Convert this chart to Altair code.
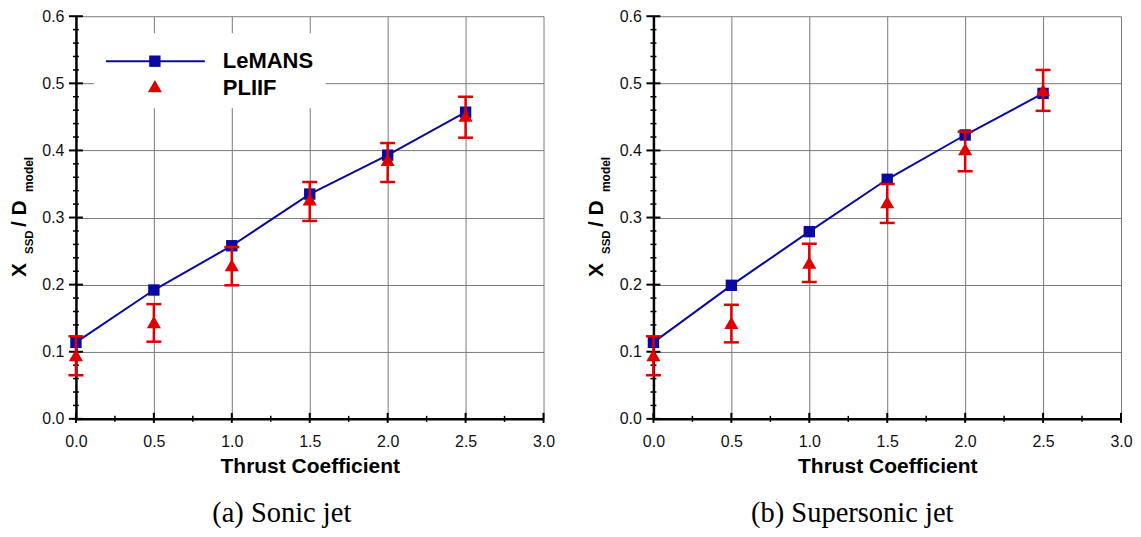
import altair as alt
import pandas as pd

thrust = [0.0, 0.5, 1.0, 1.5, 2.0, 2.5]

sonic_lemans = [0.114, 0.192, 0.258, 0.335, 0.393, 0.457]
sonic_pliif = [0.095, 0.144, 0.229, 0.327, 0.386, 0.452]
sonic_lo = [0.065, 0.115, 0.199, 0.295, 0.353, 0.419]
sonic_hi = [0.123, 0.171, 0.256, 0.353, 0.411, 0.480]

super_lemans = [0.114, 0.199, 0.279, 0.357, 0.423, 0.485]
super_pliif = [0.095, 0.143, 0.233, 0.323, 0.402, 0.490]
super_lo = [0.065, 0.114, 0.204, 0.292, 0.369, 0.459]
super_hi = [0.123, 0.170, 0.261, 0.350, 0.428, 0.520]

x_ticks = [0.0, 0.5, 1.0, 1.5, 2.0, 2.5, 3.0]
y_ticks = [0.0, 0.1, 0.2, 0.3, 0.4, 0.5, 0.6]
x_minor = [0.25, 0.75, 1.25, 1.75, 2.25, 2.75]
y_minor = [0.02, 0.04, 0.06, 0.08, 0.12, 0.14, 0.16, 0.18, 0.22, 0.24, 0.26, 0.28,
           0.32, 0.34, 0.36, 0.38, 0.42, 0.44, 0.46, 0.48, 0.52, 0.54, 0.56, 0.58]

W, H = 468, 403
BLUE = "#0A0AA0"
RED = "#E00000"
FONT = "Liberation Sans"
GRID = "#7a7a7a"

xs = alt.Scale(domain=[0, 3], nice=False, zero=False)
ys = alt.Scale(domain=[0, 0.6], nice=False, zero=False)
xax = alt.Axis(values=x_ticks, format=".1f", labelFont=FONT, labelFontSize=16,
               labelColor="#111111", labelPadding=15, labelFlush=False, ticks=False,
               domainColor="black", domainWidth=2.5, grid=True,
               gridColor=GRID, gridWidth=1, title="Thrust Coefficient",
               titleFont=FONT, titleFontSize=21, titleFontWeight="bold",
               titleColor="black", titlePadding=6)
yax = alt.Axis(values=y_ticks, format=".1f", labelFont=FONT, labelFontSize=16,
               labelColor="#111111", labelPadding=12, labelFlush=False, ticks=False,
               domainColor="black", domainWidth=2.5, grid=True,
               gridColor=GRID, gridWidth=1, title=None)


def X(f):
    return alt.X(f, scale=xs, axis=xax)


def Y(f):
    return alt.Y(f, scale=ys, axis=yax)


one = pd.DataFrame({"a": [0]})


def txt(s, x, y, size, angle=None, align="left", weight="bold", font=FONT):
    kw = dict(align=align, baseline="alphabetic", font=font, fontSize=size,
              fontWeight=weight, color="black")
    if angle is not None:
        kw["angle"] = angle
    return alt.Chart(one).mark_text(**kw).encode(
        x=alt.value(x), y=alt.value(y), text=alt.value(s))


def panel(lemans, pliif, lo, hi, caption, cap_x, legend):
    df = pd.DataFrame({"t": thrust, "lemans": lemans, "pliif": pliif,
                       "lo": lo, "hi": hi})
    txmaj = alt.Chart(pd.DataFrame({"t": x_ticks})).mark_rule(
        color="black", strokeWidth=2).encode(x=X("t:Q"), y=alt.value(H - 6), y2=alt.value(H + 4))
    txmin = alt.Chart(pd.DataFrame({"t": x_minor})).mark_rule(
        color="black", strokeWidth=1.5).encode(x=X("t:Q"), y=alt.value(H - 3), y2=alt.value(H + 3))
    tymaj = alt.Chart(pd.DataFrame({"v": y_ticks})).mark_rule(
        color="black", strokeWidth=2).encode(y=Y("v:Q"), x=alt.value(-7), x2=alt.value(7))
    tymin = alt.Chart(pd.DataFrame({"v": y_minor})).mark_rule(
        color="black", strokeWidth=1.5).encode(y=Y("v:Q"), x=alt.value(-3), x2=alt.value(3))

    layers = [txmaj, txmin, tymaj, tymin]
    if legend:
        layers += [
            alt.Chart(one).mark_rect(color="white").encode(
                x=alt.value(18), x2=alt.value(250), y=alt.value(17), y2=alt.value(92)),
            alt.Chart(one).mark_rule(color=BLUE, strokeWidth=2).encode(
                x=alt.value(30), x2=alt.value(129), y=alt.value(45)),
            alt.Chart(one).mark_point(shape="square", filled=True, size=130,
                                      color=BLUE, opacity=1).encode(
                x=alt.value(79), y=alt.value(45)),
            alt.Chart(one).mark_point(shape="triangle-up", filled=True, size=200,
                                      color=RED, opacity=1).encode(
                x=alt.value(79), y=alt.value(70)),
            txt("LeMANS", 147, 52, 22),
            txt("PLIIF", 147, 79, 22),
        ]

    line = alt.Chart(df).mark_line(color=BLUE, strokeWidth=2).encode(
        x=X("t:Q"), y=Y("lemans:Q"))
    squares = alt.Chart(df).mark_point(shape="square", filled=True, size=130,
                                       color=BLUE, opacity=1).encode(
        x=X("t:Q"), y=Y("lemans:Q"))
    bars = alt.Chart(df).mark_rule(color=RED, strokeWidth=2.5).encode(
        x=X("t:Q"), y=Y("lo:Q"), y2="hi:Q")
    cap_lo = alt.Chart(df).mark_tick(color=RED, orient="horizontal", size=15,
                                     thickness=2.5, opacity=1).encode(
        x=X("t:Q"), y=Y("lo:Q"))
    cap_hi = alt.Chart(df).mark_tick(color=RED, orient="horizontal", size=15,
                                     thickness=2.5, opacity=1).encode(
        x=X("t:Q"), y=Y("hi:Q"))
    tri = alt.Chart(df).mark_point(shape="triangle-up", filled=True, size=200,
                                   color=RED, opacity=1).encode(
        x=X("t:Q"), y=Y("pliif:Q"))

    ytitle = [
        txt("X", -50, 261, 21, angle=270),
        txt("SSD", -43, 238, 11.5, angle=270),
        txt("/ D", -50, 211, 21, angle=270),
        txt("model", -43, 176, 12, angle=270),
    ]
    cap = txt(caption, cap_x, 506, 28.5, align="center", weight="normal",
              font="Liberation Serif")

    layers += [line, squares, bars, cap_lo, cap_hi, tri] + ytitle + [cap]
    return alt.layer(*layers).properties(width=W, height=H)


left = panel(sonic_lemans, sonic_pliif, sonic_lo, sonic_hi, "(a) Sonic jet", 206, True)
right = panel(super_lemans, super_pliif, super_lo, super_hi, "(b) Supersonic jet", 199, False)

chart = alt.hconcat(left, right, spacing=31).properties(
    padding={"left": 1, "top": 0, "right": 0, "bottom": 0}
).configure_view(stroke=None)

chart.save("out.html", embed_options={"renderer": "svg", "actions": False})
